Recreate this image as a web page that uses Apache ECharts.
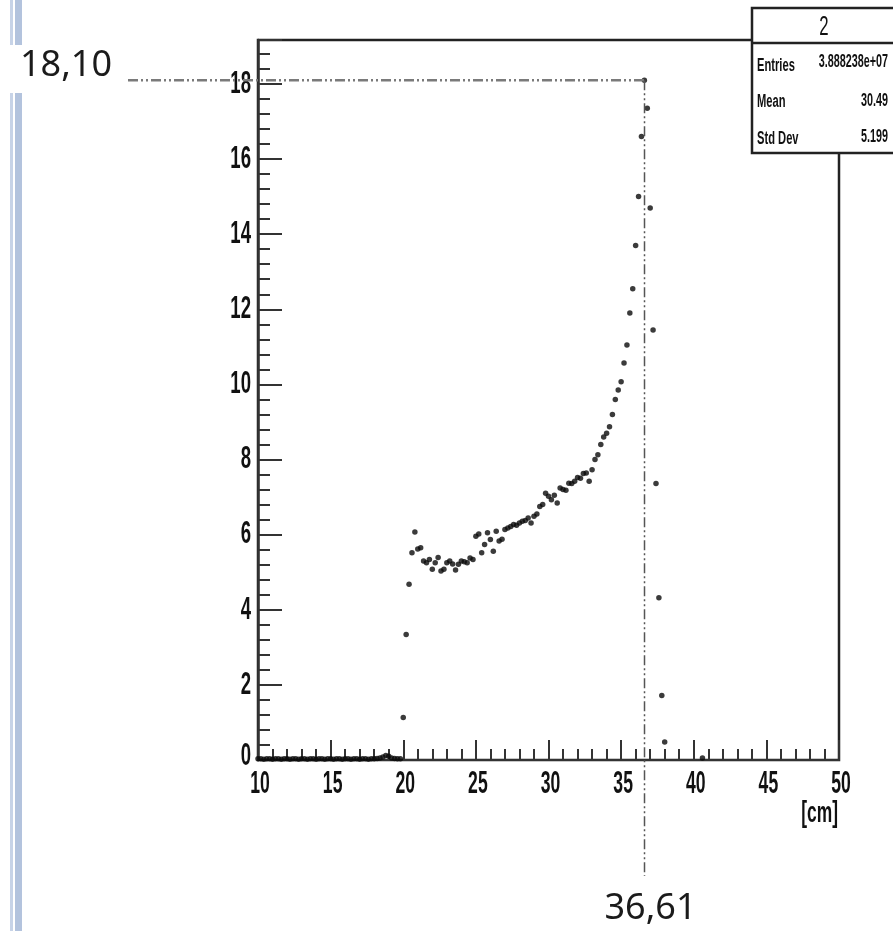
<!DOCTYPE html>
<html>
<head>
<meta charset="utf-8">
<script src="https://cdn.jsdelivr.net/npm/echarts@6/dist/echarts.min.js"></script>
<style>
html,body{margin:0;padding:0;background:#fff;}
#c{width:893px;height:931px;}
</style>
</head>
<body>
<div id="c"></div>
<script>
// ---- data ----
const binX = [
 10.0,10.2,10.4,10.6,10.8,11.0,11.2,11.4,11.6,11.8,12.0,12.2,12.4,12.6,12.8,13.0,13.2,13.4,13.6,13.8,
 14.0,14.2,14.4,14.6,14.8,15.0,15.2,15.4,15.6,15.8,16.0,16.2,16.4,16.6,16.8,17.0,17.2,17.4,17.6,17.8,
 18.0,18.2,18.4,18.6,18.8,19.0,19.2,19.4,19.6,19.8,
 20.0,20.2,20.4,20.6,20.8,21.0,21.2,21.4,21.6,21.8,22.0,22.2,22.4,22.6,22.8,23.0,23.2,23.4,23.6,23.8,
 24.0,24.2,24.4,24.6,24.8,25.0,25.2,25.4,25.6,25.8,26.0,26.2,26.4,26.6,26.8,27.0,27.2,27.4,27.6,27.8,
 28.0,28.2,28.4,28.6,28.8,29.0,29.2,29.4,29.6,29.8,30.0,30.2,30.4,30.6,30.8,31.0,31.2,31.4,31.6,31.8,
 32.0,32.2,32.4,32.6,32.8,33.0,33.2,33.4,33.6,33.8,34.0,34.2,34.4,34.6,34.8,35.0,35.2,35.4,35.6,35.8,
 36.0,36.2,36.4,36.6,36.8,37.0,37.2,37.4,37.6,37.8,38.0,40.6
];
const binY = [
 0.03,0.03,0.02,0.03,0.03,0.02,0.03,0.03,0.02,0.03,0.03,0.02,0.03,0.03,0.02,0.03,0.03,0.02,0.03,0.03,
 0.02,0.03,0.03,0.02,0.03,0.03,0.02,0.03,0.03,0.02,0.03,0.03,0.02,0.03,0.03,0.02,0.03,0.03,0.02,0.03,
 0.03,0.04,0.05,0.08,0.12,0.10,0.05,0.04,0.03,0.03,
 1.13,3.34,4.68,5.52,6.07,5.62,5.65,5.30,5.25,5.34,5.08,5.25,5.39,5.03,5.08,5.25,5.30,5.22,5.06,5.21,
 5.30,5.28,5.25,5.38,5.34,5.96,6.02,5.52,5.74,6.05,5.87,5.56,6.09,5.83,5.88,6.14,6.18,6.22,6.27,6.25,
 6.31,6.36,6.38,6.44,6.31,6.49,6.55,6.75,6.80,7.10,7.02,6.93,7.05,6.84,7.24,7.20,7.18,7.37,7.36,7.42,
 7.52,7.50,7.63,7.64,7.42,7.73,8.00,8.13,8.40,8.60,8.70,8.87,9.20,9.60,9.85,10.07,10.57,11.05,11.90,12.55,
 13.70,15.00,16.60,18.10,17.35,14.70,11.45,7.36,4.32,1.72,0.48,0.05
];
const xTicks = [10, 15, 20, 25, 30, 35, 40, 45, 50];
const xTickLabels = ["10", "15", "20", "25", "30", "35", "40", "45", "50"];
const yTicks = [0, 2, 4, 6, 8, 10, 12, 14, 16, 18];
const yTickLabels = ["0", "2", "4", "6", "8", "10", "12", "14", "16", "18"];
const peakX = 36.61;
const peakY = 18.10;
const peakXLabel = "36,61";
const peakYLabel = "18,10";
const xAxisTitle = "[cm]";
const statsTitle = "2";
const statsNames = ["Entries", "Mean", "Std Dev"];
const statsValues = ["3.888238e+07", "30.49", "5.199"];

const points = binX.map((x, i) => [x, binY[i]]);
const FONT = '"Liberation Sans", Arial, sans-serif';

const chart = echarts.init(document.getElementById('c'));
chart.setOption({
  animation: false,
  backgroundColor: '#ffffff',
  grid: {left: 258, top: 40, right: 54, bottom: 171, show: true, borderColor: '#222', borderWidth: 2.5, backgroundColor: 'transparent'},
  xAxis: {
    type: 'value', min: 10, max: 50, interval: 5,
    axisLine: {show: true, onZero: false, lineStyle: {color: '#333', width: 2}},
    axisTick: {show: true, inside: true, length: 20, lineStyle: {color: '#333', width: 2}},
    minorTick: {show: true, splitNumber: 5, length: 11, lineStyle: {color: '#333', width: 2}},
    splitLine: {show: false},
    axisLabel: {show: false}
  },
  yAxis: {
    type: 'value', min: 0, max: 19.17, interval: 2,
    axisLine: {show: true, lineStyle: {color: '#333', width: 2.5}},
    axisTick: {show: true, inside: true, length: 24, lineStyle: {color: '#333', width: 2}},
    minorTick: {show: true, splitNumber: 5, length: 12, lineStyle: {color: '#333', width: 2}},
    splitLine: {show: false},
    axisLabel: {show: false}
  },
  series: [{
    type: 'scatter',
    data: points,
    symbol: 'circle',
    symbolSize: 5.5,
    itemStyle: {color: '#0a0a0a'},
    z: 3
  }]
});

const pPeak = chart.convertToPixel({gridIndex: 0}, [peakX, peakY]);
const px = pPeak[0], py = pPeak[1];
const dashPat = [10, 3, 2, 3, 2, 3];
const labelFont = 'bold 32px ' + FONT;

const g = [];
// tick labels placed through the axis scales
xTicks.forEach((v, i) => {
  const p = chart.convertToPixel({xAxisIndex: 0}, v);
  g.push({type: 'text', x: p + 2, y: 784, scaleX: 0.55, style: {text: xTickLabels[i], font: labelFont, fill: '#111', textAlign: 'center', textVerticalAlign: 'middle'}, z: 40});
});
yTicks.forEach((v, i) => {
  const p = chart.convertToPixel({yAxisIndex: 0}, v);
  g.push({type: 'text', x: 251, y: p + (v === 0 ? -4 : 0), scaleX: 0.58, style: {text: yTickLabels[i], font: labelFont, fill: '#111', textAlign: 'right', textVerticalAlign: 'middle'}, z: 40});
});

g.push(
  // left decorative bars
  {type: 'rect', shape: {x: 10, y: 0, width: 3, height: 45}, style: {fill: '#c7d3e7'}, z: 50},
  {type: 'rect', shape: {x: 15, y: 0, width: 7, height: 45}, style: {fill: '#b3c3dd'}, z: 50},
  {type: 'rect', shape: {x: 10, y: 93, width: 3, height: 838}, style: {fill: '#c7d3e7'}, z: 50},
  {type: 'rect', shape: {x: 15, y: 93, width: 7, height: 838}, style: {fill: '#b3c3dd'}, z: 50},
  // annotation lines
  {type: 'line', shape: {x1: 128, y1: py, x2: px, y2: py},
   style: {stroke: '#7a7a7a', lineWidth: 2.5, lineDash: dashPat}, z: 60},
  {type: 'line', shape: {x1: px, y1: py, x2: px, y2: 876},
   style: {stroke: '#555', lineWidth: 1.5, lineDash: dashPat}, z: 60},
  {type: 'text', x: 20, y: py - 14, style: {text: peakYLabel, font: '36px "Noto Sans", "Open Sans", sans-serif', fill: '#1b1b1b', textVerticalAlign: 'middle'}, z: 60},
  {type: 'text', x: px + 6, y: 909, style: {text: peakXLabel, font: '36px "Noto Sans", "Open Sans", sans-serif', fill: '#1b1b1b', textAlign: 'center', textVerticalAlign: 'middle'}, z: 60},
  // axis title
  {type: 'text', x: 838, y: 814, scaleX: 0.6, style: {text: xAxisTitle, font: 'bold 29px ' + FONT, fill: '#111', textAlign: 'right', textVerticalAlign: 'middle'}, z: 60},
  // stats box
  {type: 'rect', shape: {x: 752, y: 8, width: 160, height: 145}, style: {fill: '#fff', stroke: '#222', lineWidth: 2.5}, z: 70},
  {type: 'line', shape: {x1: 752, y1: 43, x2: 893, y2: 43}, style: {stroke: '#222', lineWidth: 2.5}, z: 71},
  {type: 'text', x: 824, y: 27, scaleX: 0.6, style: {text: statsTitle, font: '28px ' + FONT, fill: '#111', textAlign: 'center', textVerticalAlign: 'middle'}, z: 72},
  {type: 'text', x: 757, y: 66, scaleX: 0.62, style: {text: statsNames[0], font: 'bold 18px ' + FONT, fill: '#111', textVerticalAlign: 'middle'}, z: 72},
  {type: 'text', x: 757, y: 102, scaleX: 0.62, style: {text: statsNames[1], font: 'bold 18px ' + FONT, fill: '#111', textVerticalAlign: 'middle'}, z: 72},
  {type: 'text', x: 757, y: 139, scaleX: 0.62, style: {text: statsNames[2], font: 'bold 18px ' + FONT, fill: '#111', textVerticalAlign: 'middle'}, z: 72},
  {type: 'text', x: 888, y: 62, scaleX: 0.6, style: {text: statsValues[0], font: 'bold 18px ' + FONT, fill: '#111', textAlign: 'right', textVerticalAlign: 'middle'}, z: 72},
  {type: 'text', x: 888, y: 101, scaleX: 0.6, style: {text: statsValues[1], font: 'bold 18px ' + FONT, fill: '#111', textAlign: 'right', textVerticalAlign: 'middle'}, z: 72},
  {type: 'text', x: 888, y: 137, scaleX: 0.6, style: {text: statsValues[2], font: 'bold 18px ' + FONT, fill: '#111', textAlign: 'right', textVerticalAlign: 'middle'}, z: 72}
);

chart.setOption({graphic: g});
</script>
</body>
</html>
